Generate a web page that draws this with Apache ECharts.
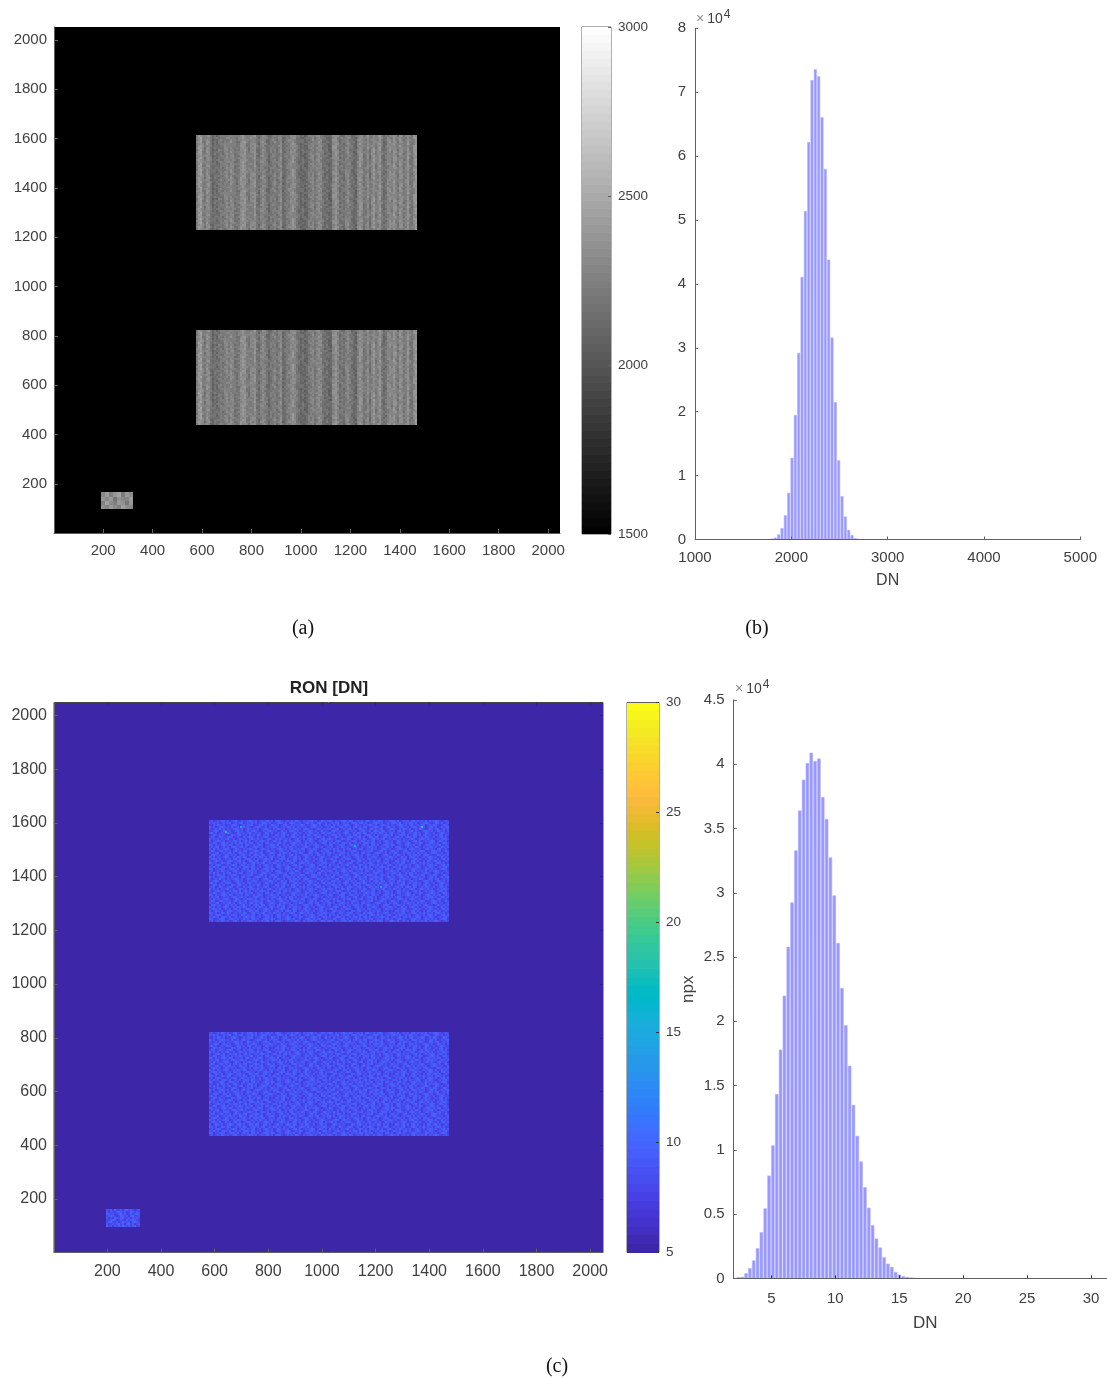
<!DOCTYPE html>
<html><head><meta charset="utf-8">
<style>html,body{margin:0;padding:0;background:#fff;overflow:hidden}#c{width:1107px;height:1378px}</style>
<script src="https://cdn.jsdelivr.net/npm/echarts@6/dist/echarts.min.js"></script>
</head><body><div id="c"></div>
<script>
// ---- tick labels
const imageTicks = [200,400,600,800,1000,1200,1400,1600,1800,2000];
const ronHistTicks = [5,10,15,20,25,30];
// ---- panel (a): dark-frame image regions [xStart,xEnd,yStart,yEnd] in px coordinates of the sensor
const darkRegionsA = [[575,1469,1229,1614],[575,1469,438,823]];
const smallRegionA = [190,320,97,166];
// column pattern (DN), read across the stripes of the image
const stripeDN = [2230,2380,2400,2260,2210,2330,2300,2180,2120,2170,
  2140,2200,2230,2190,2250,2280,2240,2300,2270,2210,
  2180,2220,2320,2350,2340,2250,2210,2290,2270,2330,
  2200,2150,2260,2310,2250,2180,2130,2200,2230,2270,
  2190,2240,2290,2120,2170,2230,2260,2300,2330,2290,
  2200,2150,2120,2150,2110,2140,2210,2240,2280,2220,
  2260,2320,2280,2190,2140,2170,2110,2100,2310,2350,
  2270,2180,2210,2160,2250,2290,2230,2170,2130,2120,
  2260,2340,2300,2200,2230,2320,2180,2290,2340,2230,
  2280,2350,2220,2150,2180,2270,2310,2250,2360,2290,
  2210,2330,2280,2200,2260,2350,2240,2190,2310,2380];
const smallPatchDN = [
  [2300,2420,2250,2380,2450,2220,2400,2330],
  [2380,2300,2400,2180,2360,2300,2280,2420],
  [2260,2450,2320,2240,2400,2350,2200,2380],
  [2350,2280,2400,2300,2250,2430,2340,2300]];
// ---- panel (b): histogram of DN
const histBinStartB = 1765, histBinStepB = 34.6;
const histCountsB = [0.002,0.01,0.03,0.08,0.18,0.38,0.73,1.28,1.95,2.92,4.11,5.14,6.22,7.19,7.36,7.25,6.61,5.80,4.38,3.16,2.15,1.24,0.68,0.36,0.15,0.07,0.02,0.005];
// ---- panel (c): RON image; one hex digit per cell = DN level
const ronBackground = 5;
const ronRegions = [[578,1472,1230,1610],[578,1472,436,820]];
const ronSmallRegion = [194,320,97,164];
const ronCells = [
"897898a989789a879889a98978989a8979a98789898a9879899a8978a989",
"98a8978989a78989a7898a89789a9897889a98979a9889789a89879a8897",
"8798a9897889a98789899a7889a8978a989789a8798989a97889a98978a8",
"a89789a9897a88979a898789a98897989a87898a9897a8989789a9889789",
"97898a8979889a98978a98989789a98798a98978989a8979a98878a98989",
"889a978a989789a8978989a9878989a98978a8979a98978989a98978a898",
"9a8978989a9878a98979a8898978a98987989a97889a898798a988979a89",
"78a98989787a989a88979898a97989787a989a8979a898797a989a897898",
"89978a9889a978987a89a9879889a97898989a7889a9798a898979a98978",
"a89897989a88978a98979a98a89789a8798a98989789a88979a989789a89",
"9789a98978989a8979a8978989a98978a98979a89889a97898a9878989a8",
"88a9789a8979898a98989a7898979a89789a898789a98978a98989789a97",
"a979889a98a97898979a88989a97889a98a7898979a89898a7989a987898",
"8989a7898979a989a897889a98978989a98a7898a9897889a9878a989789",
"97a89889a9878a987989a98978a98979889a98979a8898a97898a9878a98",
"8a9789a898979a8989a7889a98978a989789a88979a98989789a8978989a",
"9889a78989a8978a98979a8989a7889a98798a9897898a9878a989a78989",
"79a98978a98989789a88979a98a97898979a89789a898789a98978a98979",
"a8979889a97898a98a9789898a98979a88989a78989a8978a9889789a988",
"89a98a7898979a89789a98979889a98a7889a98978a98979a8978989a798",
"978a989789a9889a8978a98a9789a89789a8979a98a97898a9889789a897",
"a98978a98a9789898a9789a8989a7898a98979889a9789a98a8978989a98",
"8979a9878989a978a98989a78979a98978a98989789a8978989a978a9897",
"98a8979a98a7898979a98a9889789a8978a9889a97898a97889a98978a98",
"a97889a9789a98978a8979a89789a98a9789889a98a789789a98989a7898"];
const ronHotPixels = [[637,1562,18],[693,1580,16],[1118,1509,17],[1368,1580,18],[1215,1357,16]];
// ---- panel (c): histogram of RON
const histBinStartC = 2.416, histBinStepC = 0.3;
const histCountsC = [0.01,0.013,0.04,0.08,0.14,0.235,0.36,0.545,0.80,1.035,1.435,1.78,2.20,2.58,2.925,3.33,3.64,3.88,4.01,4.09,4.025,4.045,3.745,3.575,3.275,2.98,2.61,2.26,1.97,1.655,1.35,1.11,0.91,0.71,0.55,0.415,0.31,0.24,0.165,0.115,0.09,0.05,0.03,0.018,0.012,0.007,0.003];
// ---- colour scale
const parula = [[.2422,.1504,.6603],[.2504,.1650,.7076],[.2578,.1818,.7511],[.2647,.1978,.7952],[.2706,.2147,.8364],[.2751,.2342,.8710],[.2783,.2559,.8991],[.2803,.2782,.9221],[.2813,.3006,.9414],[.2810,.3228,.9579],[.2795,.3447,.9717],[.2760,.3667,.9829],[.2699,.3892,.9906],[.2602,.4123,.9952],[.2440,.4358,.9988],[.2206,.4603,.9973],[.1963,.4847,.9892],[.1834,.5074,.9798],[.1786,.5289,.9682],[.1764,.5499,.9520],[.1687,.5703,.9359],[.1540,.5902,.9218],[.1460,.6091,.9079],[.1380,.6276,.8973],[.1248,.6459,.8883],[.1113,.6635,.8763],[.0952,.6798,.8598],[.0689,.6948,.8394],[.0297,.7082,.8163],[.0036,.7203,.7917],[.0067,.7312,.7660],[.0433,.7411,.7394],[.0964,.7500,.7120],[.1408,.7584,.6842],[.1717,.7670,.6554],[.1938,.7758,.6251],[.2161,.7843,.5923],[.2470,.7918,.5567],[.2906,.7973,.5188],[.3406,.8008,.4789],[.3909,.8029,.4354],[.4456,.8024,.3909],[.5044,.7993,.3480],[.5616,.7942,.3045],[.6174,.7876,.2612],[.6720,.7793,.2227],[.7242,.7698,.1910],[.7738,.7598,.1646],[.8203,.7498,.1535],[.8634,.7406,.1596],[.9035,.7330,.1774],[.9393,.7288,.2100],[.9728,.7298,.2394],[.9956,.7434,.2371],[.9970,.7659,.2199],[.9952,.7893,.2028],[.9892,.8136,.1885],[.9786,.8386,.1766],[.9676,.8639,.1643],[.9610,.8890,.1537],[.9597,.9135,.1423],[.9628,.9373,.1265],[.9691,.9606,.1064],[.9769,.9839,.0805]];

const FONT = '"Liberation Sans", Arial, sans-serif';
const TXT = '#404040', AX = '#606060';
const grayOf = v => { const t = Math.max(0, Math.min(1, (v-1500)/1500)); const g = Math.round(t*255); return `rgb(${g},${g},${g})`; };
const parulaOf = v => { const t = Math.max(0, Math.min(1, (v-5)/25)); const c = parula[Math.min(63, Math.floor(t*64))]; return `rgb(${c.map(x=>Math.round(x*255)).join(',')})`; };

function cells(colorFn, xi, yi, data) {
  return {
    type:'custom', xAxisIndex:xi, yAxisIndex:yi, data, silent:true, progressive:0, animation:false,
    encode:{x:[0,1], y:[2,3]},
    renderItem(p, api){
      const a = api.coord([api.value(0), api.value(3)]), b = api.coord([api.value(1), api.value(2)]);
      const x = Math.round(a[0]), y = Math.round(a[1]);
      return {type:'rect', shape:{x, y, width:Math.max(1,Math.round(b[0])-x), height:Math.max(1,Math.round(b[1])-y)},
        style:{fill:colorFn(api.value(4)), stroke:null}};
    }
  };
}
// table rows [x0,x1,y0,y1,value]
function gridRows(reg, cols, rows, valueAt) {
  const out = [], dx=(reg[1]-reg[0])/cols, dy=(reg[3]-reg[2])/rows;
  for (let r=0;r<rows;r++) for (let c=0;c<cols;c++)
    out.push([reg[0]+c*dx, reg[0]+(c+1)*dx, reg[3]-(r+1)*dy, reg[3]-r*dy, valueAt(c,r)]);
  return out;
}
const level = (c,r) => parseInt(ronCells[(r+(c>=60?12:0)+(c>=120?5:0))%ronCells.length][c%60],16);
const imgA = [];
darkRegionsA.forEach(reg => imgA.push(...gridRows(reg, stripeDN.length, 48, (c,r)=>stripeDN[c]+(level(c,r)-8.6)*45)));
imgA.push(...gridRows(smallRegionA, 8, 4, (c,r)=>smallPatchDN[r][c]));

const imgC = [[1,2048,1,2048,ronBackground]];
ronRegions.forEach(reg => imgC.push(...gridRows(reg, 120, 51, level)));
imgC.push(...gridRows(ronSmallRegion, 17, 9, (c,r)=>level(c+7,r+3)));
ronHotPixels.forEach(p => imgC.push([p[0],p[0]+8,p[1],p[1]+8,p[2]]));

const barA = []; for (let i=0;i<64;i++) barA.push([0,1,1500+i*1500/64,1500+(i+1)*1500/64,1500+(i+.5)*1500/64]);
const barC = []; for (let i=0;i<64;i++) barC.push([0,1,5+i*25/64,5+(i+1)*25/64,5+(i+.5)*25/64]);

const histB = histCountsB.map((v,i)=>[histBinStartB+i*histBinStepB, v]);
const histC = histCountsC.map((v,i)=>[histBinStartC+i*histBinStepC, v]);

const plain = v => String(v);
const lab = (size, margin, dropTop) => ({color:TXT, fontFamily:FONT, fontSize:size, margin, formatter:plain, padding:dropTop?[3,0,0,0]:0});
const line = {show:true, onZero:false, lineStyle:{color:AX, width:1}};
const tick = (len, col) => ({show:true, inside:true, length:len, lineStyle:{color:col||AX, width:1}});
function imgAxis(grid, size, margin, pos, maxV, dropTop) {
  return {type:'value', gridIndex:grid, min:1, max:maxV, position:pos, z:10, axisLine:line, splitLine:{show:false},
    axisTick:Object.assign(tick(4),{customValues:imageTicks}),
    axisLabel:Object.assign(lab(size,margin,dropTop),{customValues:imageTicks})};
}
const hidden = g => ({type:'value', gridIndex:g, min:0, max:1, show:false, splitLine:{show:false}});
const boxAxis = (g,pos,maxV) => ({type:'value', gridIndex:g, min:1, max:maxV, position:pos, z:10, axisLine:{show:false,onZero:false}, splitLine:{show:false},
    axisTick:Object.assign(tick(3,'#2a2a70'),{customValues:imageTicks}), axisLabel:{show:false}});
const barAxis = (g,minV,maxV,step,tickCol) => ({type:'value',gridIndex:g,min:minV,max:maxV,interval:step,position:'right',z:10,
    axisLine:{show:false,onZero:false},axisTick:tick(3,tickCol),splitLine:{show:false},axisLabel:lab(13.5,7,true)});

const caption = (text,x,y) => ({text, left:x, top:y, textAlign:'center', padding:0,
  textStyle:{fontFamily:'"Liberation Serif","Times New Roman",serif', fontSize:20, fontWeight:'normal', color:'#111'}});
const expo = (x,y) => ({text:'{m|×}{t|10}{e|4}', left:x, top:y, padding:0, textStyle:{fontWeight:'normal',rich:{
  m:{fontFamily:FONT,fontSize:14,fontWeight:'normal',color:'#8a8a8a',padding:[3,1,0,0]},
  t:{fontFamily:FONT,fontSize:14,fontWeight:'normal',color:TXT,padding:[3,1,0,2]},
  e:{fontFamily:FONT,fontSize:12,fontWeight:'normal',color:TXT,verticalAlign:'top',padding:[0,0,0,0]}}}});

const barStyle = {color:'#9797ff', borderColor:'#b8b8ff', borderWidth:0.6};
const option = {
  animation:false, backgroundColor:'#fff',
  title:[
    caption('(a)',303,619), caption('(b)',757,619), caption('(c)',557,1357),
    {text:'RON [DN]', left:329, top:680, textAlign:'center', padding:0, textStyle:{fontFamily:FONT,fontSize:17,fontWeight:'bold',color:'#222'}},
    expo(696,9), expo(735,679)
  ],
  grid:[
    {left:54, top:27, width:506, height:506, show:true, backgroundColor:'#000', borderWidth:0},
    {left:582, top:27, width:29, height:507, show:true, borderColor:AX, borderWidth:1},
    {left:695, top:28.3, width:385.3, height:511.2},
    {left:54, top:702.5, width:549, height:550, show:true, borderColor:'#444', borderWidth:1},
    {left:627, top:702.5, width:32, height:550, show:true, borderColor:AX, borderWidth:1},
    {left:733.7, top:700, width:373.3, height:578.4}
  ],
  xAxis:[
    imgAxis(0,15,10,'bottom',2048),
    hidden(1),
    {type:'value',gridIndex:2,min:1000,max:5000,interval:1000,z:10,axisLine:line,axisTick:tick(3),splitLine:{show:false},
      axisLabel:lab(15,11),name:'DN',nameLocation:'middle',nameGap:33,nameTextStyle:{color:TXT,fontFamily:FONT,fontSize:16}},
    imgAxis(3,16,11,'bottom',2048),
    hidden(4),
    {type:'value',gridIndex:5,min:2.05,max:31.25,z:10,axisLine:line,splitLine:{show:false},
      axisTick:Object.assign(tick(3,'#333'),{customValues:ronHistTicks}),
      axisLabel:Object.assign(lab(15,13),{customValues:ronHistTicks}),
      name:'DN',nameLocation:'middle',nameGap:36,nameTextStyle:{color:TXT,fontFamily:FONT,fontSize:17,padding:[0,0,0,10]}},
    boxAxis(3,'top',2048)
  ],
  yAxis:[
    imgAxis(0,15,7,'left',2052,true),
    barAxis(1,1500,3000,500),
    {type:'value',gridIndex:2,min:0,max:8,interval:1,z:10,axisLine:line,axisTick:tick(3),splitLine:{show:false},axisLabel:lab(15,9,true)},
    imgAxis(3,16,7,'left',2048,true),
    barAxis(4,5,30,5,'#333'),
    {type:'value',gridIndex:5,min:0,max:4.5,interval:0.5,z:10,axisLine:line,axisTick:tick(3),splitLine:{show:false},axisLabel:lab(15,9,true),
      name:'npx',nameLocation:'middle',nameGap:37,nameRotate:90,nameTextStyle:{color:TXT,fontFamily:FONT,fontSize:17}},
    boxAxis(3,'right',2048)
  ],
  series:[
    cells(grayOf,0,0,imgA),
    cells(grayOf,1,1,barA),
    {type:'bar',xAxisIndex:2,yAxisIndex:2,data:histB,barWidth:3.0,itemStyle:barStyle,silent:true,animation:false},
    cells(parulaOf,3,3,imgC),
    cells(parulaOf,4,4,barC),
    {type:'bar',xAxisIndex:5,yAxisIndex:5,data:histC,barWidth:3.5,itemStyle:barStyle,silent:true,animation:false}
  ]
};
const chart = echarts.init(document.getElementById('c'), null, {renderer:'canvas', width:1107, height:1378});
chart.setOption(option);
</script></body></html>
